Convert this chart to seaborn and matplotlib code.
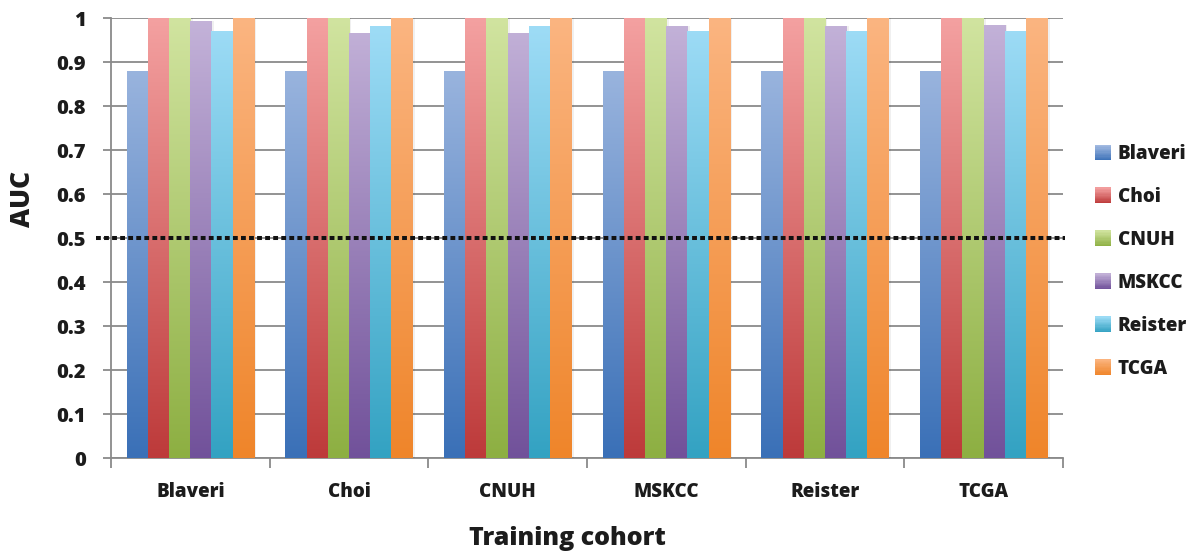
import numpy as np
import pandas as pd
import matplotlib
matplotlib.use("Agg")
import matplotlib.pyplot as plt
from matplotlib.colors import to_rgb
from matplotlib.patches import Rectangle
from matplotlib.legend_handler import HandlerBase
import seaborn as sns

# Training cohorts (x groups) and test cohorts (hue series)
training = ["Blaveri", "Choi", "CNUH", "MSKCC", "Reister", "TCGA"]
test_cohorts = ["Blaveri", "Choi", "CNUH", "MSKCC", "Reister", "TCGA"]

# AUC per test cohort, one value per training cohort
auc_blaveri = [0.879, 0.879, 0.879, 0.879, 0.879, 0.879]
auc_choi = [1.0, 1.0, 1.0, 1.0, 1.0, 1.0]
auc_cnuh = [1.0, 1.0, 1.0, 1.0, 1.0, 1.0]
auc_mskcc = [0.993, 0.967, 0.967, 0.983, 0.983, 0.985]
auc_reister = [0.971, 0.983, 0.983, 0.971, 0.970, 0.971]
auc_tcga = [1.0, 1.0, 1.0, 1.0, 1.0, 1.0]

threshold = 0.5
y_ticks = [0, 0.1, 0.2, 0.3, 0.4, 0.5, 0.6, 0.7, 0.8, 0.9, 1]
y_tick_labels = ["0", "0.1", "0.2", "0.3", "0.4", "0.5", "0.6", "0.7", "0.8", "0.9", "1"]

# (top, bottom) colours of the vertical gradient per series
grad_top = ["#A6BDE3", "#F4A1A1", "#D1E4A0", "#C4B3D9", "#A0DDF7", "#FBB581"]
grad_bottom = ["#3A70B7", "#BD3A3A", "#8DAF42", "#71519A", "#33A2C2", "#EF852A"]

series = [auc_blaveri, auc_choi, auc_cnuh, auc_mskcc, auc_reister, auc_tcga]
df = pd.DataFrame({
    "Training cohort": np.repeat([training], len(test_cohorts), axis=0).ravel(),
    "Test cohort": np.repeat(test_cohorts, len(training)),
    "AUC": np.concatenate(series),
})

sns.set_theme(style="white")
font = ["Open Sans", "DejaVu Sans"]
heavy = 800
plt.rcParams["font.family"] = font
plt.rcParams["font.weight"] = heavy
text_col = "#1c1c1c"

fig = plt.figure(figsize=(11.93, 5.56), dpi=100)
ax = fig.add_axes([0.093, 0.176, 0.798, 0.7915])

mid_cols = [tuple((np.array(to_rgb(t)) + np.array(to_rgb(b))) / 2) for t, b in zip(grad_top, grad_bottom)]
sns.barplot(data=df, x="Training cohort", y="AUC", hue="Test cohort",
            order=training, hue_order=test_cohorts, palette=mid_cols,
            width=0.8, legend=False, ax=ax, zorder=3, linewidth=0)


def gradient_image(top, bottom, n=256):
    t = np.linspace(0, 1, n)[:, None]
    top = np.array(to_rgb(top))
    bottom = np.array(to_rgb(bottom))
    img = bottom[None, :] * (1 - t) + top[None, :] * t
    return img[:, None, :]


# paint each bar with a vertical gradient (full-height scale, dark at bottom)
for i, cont in enumerate(ax.containers):
    img = gradient_image(grad_top[i], grad_bottom[i])
    for bar in cont:
        x0 = bar.get_x()
        w = bar.get_width()
        h = bar.get_height()
        # soft shadow on the right side
        sh = Rectangle((x0 + w, 0), w * 0.12, h, facecolor="#000000", alpha=0.06,
                       linewidth=0, zorder=2.9)
        ax.add_patch(sh)
        im = ax.imshow(img, extent=(x0, x0 + w, 0, 1), origin="lower",
                       aspect="auto", zorder=3.1, interpolation="bilinear")
        im.set_clip_path(bar)

ax.set_xlim(-0.5, len(training) - 0.5)
ax.set_ylim(0, 1)

# grid and axes styling
ax.set_yticks(y_ticks)
ax.set_yticklabels(y_tick_labels)
ax.yaxis.grid(True, color="#8A8A8A", linewidth=1.3, zorder=0)
ax.set_axisbelow(True)
for s in ["top", "right"]:
    ax.spines[s].set_visible(False)
for s in ["left", "bottom"]:
    ax.spines[s].set_color("#8A8A8A")
    ax.spines[s].set_linewidth(1.3)

ax.tick_params(axis="y", which="major", direction="out", length=6, width=1.3,
               color="#8A8A8A", left=True, labelsize=14.5, pad=12, labelcolor=text_col)
ax.set_xticks(np.arange(len(training)))
ax.set_xticks(np.arange(len(training) + 1) - 0.5, minor=True)
ax.set_xticklabels(training)
ax.tick_params(axis="x", which="major", length=0, labelsize=13.5, pad=17, labelcolor=text_col)
ax.tick_params(axis="x", which="minor", direction="out", length=7, width=1.3,
               color="#8A8A8A", bottom=True)
for lab in ax.get_xticklabels() + ax.get_yticklabels():
    lab.set_fontweight(heavy)

ax.set_xlabel("Training cohort", fontsize=18, fontweight=heavy, color=text_col)
ax.set_ylabel("AUC", fontsize=19, fontweight=heavy, color=text_col)
ax.xaxis.set_label_coords(0.48, -0.154)
ax.yaxis.set_label_coords(-0.079, 0.59)

# chance-level reference line
ax.axhline(threshold, xmin=-0.016, xmax=1.002, color="#111111", linewidth=2.9,
           linestyle=(0, (1.2, 0.8)), dash_capstyle="butt", zorder=5, clip_on=False)


class GradientHandler(HandlerBase):
    def __init__(self, top, bottom):
        super().__init__()
        self.top = np.array(to_rgb(top))
        self.bottom = np.array(to_rgb(bottom))

    def create_artists(self, legend, orig_handle, xdescent, ydescent, width, height, fontsize, trans):
        n = 12
        side = height * 1.0
        x0 = -xdescent + (width - side)
        y0 = -ydescent + (height - side) / 2
        arts = []
        for k in range(n):
            t = (k + 0.5) / n
            c = self.bottom * (1 - t) + self.top * t
            r = Rectangle((x0, y0 + side * k / n), side, side / n + 0.2,
                          facecolor=c, edgecolor="none", transform=trans)
            arts.append(r)
        return arts


handles = [Rectangle((0, 0), 1, 1) for _ in test_cohorts]
handler_map = {h: GradientHandler(grad_top[i], grad_bottom[i]) for i, h in enumerate(handles)}
leg = fig.legend(handles, test_cohorts, handler_map=handler_map,
                 loc="center left", bbox_to_anchor=(0.903, 0.530), frameon=False,
                 prop={"size": 13.5, "weight": heavy, "family": font},
                 labelspacing=1.22, handlelength=0.9, handleheight=0.9, handletextpad=0.35)
for t in leg.get_texts():
    t.set_color(text_col)

fig.savefig("out.png", dpi=100)
